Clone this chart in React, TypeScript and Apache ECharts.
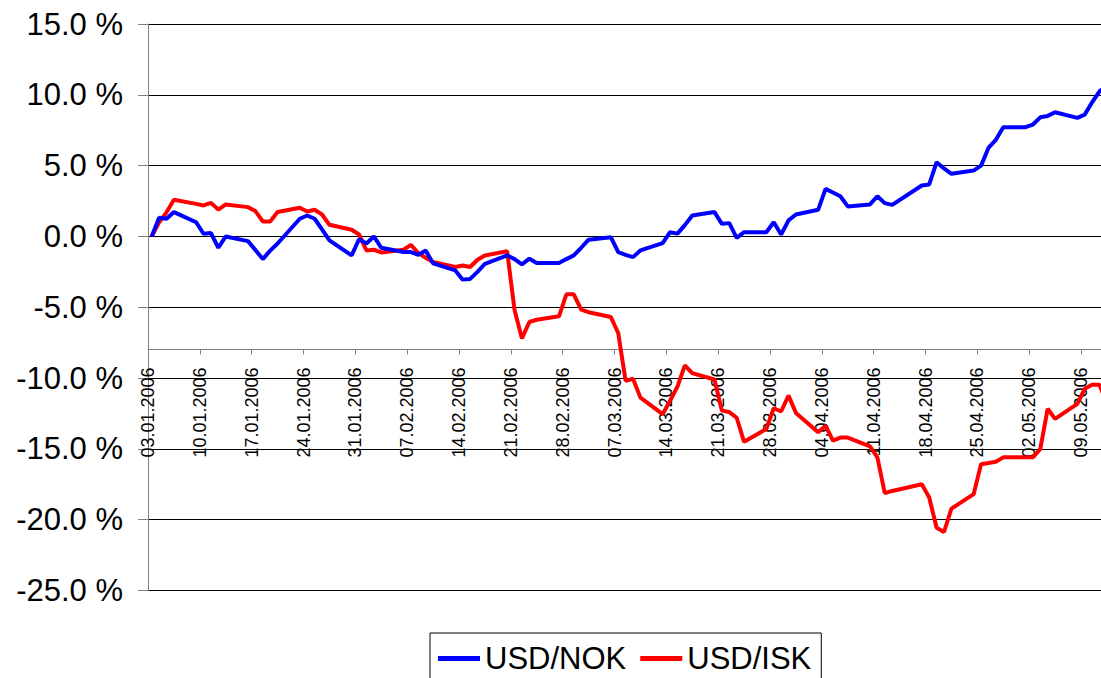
import React, { useEffect, useRef } from "react";
import * as echarts from "echarts";

// Trading dates (2006)
const dates = [
  "03.01","04.01","05.01","06.01","09.01","10.01","11.01","12.01","13.01",
  "16.01","17.01","18.01","19.01","20.01","23.01","24.01","25.01","26.01","27.01",
  "30.01","31.01","01.02","02.02","03.02","06.02","07.02","08.02","09.02","10.02",
  "13.02","14.02","15.02","16.02","17.02","20.02","21.02","22.02","23.02","24.02",
  "27.02","28.02","01.03","02.03","03.03","06.03","07.03","08.03","09.03","10.03",
  "13.03","14.03","15.03","16.03","17.03","20.03","21.03","22.03","23.03","24.03",
  "27.03","28.03","29.03","30.03","31.03","03.04","04.04","05.04","06.04","07.04",
  "10.04","11.04","12.04","13.04","17.04","18.04","19.04","20.04","21.04",
  "24.04","25.04","26.04","27.04","28.04","01.05","02.05","03.05","04.05","05.05",
  "08.05","09.05","10.05","11.05","12.05",
];

const usdNok = [
  0, 1.32, 1.25, 1.72, 1.0, 0.19, 0.24, -0.8, 0.0,
  -0.33, -0.95, -1.6, -1.0, -0.5, 1.25, 1.48, 1.25, 0.5, -0.28,
  -1.34, -0.2, -0.5, 0.0, -0.8, -1.1, -1.1, -1.3, -1.0, -1.9,
  -2.4, -3.05, -3.0, -2.5, -1.93, -1.34, -1.6, -1.97, -1.57, -1.88,
  -1.88, -1.6, -1.34, -0.8, -0.23, -0.05, -1.1, -1.3, -1.46, -0.99,
  -0.47, 0.3, 0.2, 0.8, 1.48, 1.72, 0.89, 0.94, -0.1, 0.3,
  0.3, 1.0, 0.14, 1.13, 1.55, 1.88, 3.36, 3.1, 2.84, 2.12,
  2.26, 2.84, 2.35, 2.23, 3.6, 3.67, 5.24, 4.8, 4.42,
  4.65, 5.0, 6.25, 6.82, 7.71, 7.71, 7.9, 8.41, 8.51, 8.77,
  8.37, 8.6, 9.47, 10.25, 10.6,
];

const usdIsk = [
  0, 1.0, 1.7, 2.59, 2.3, 2.19, 2.37, 1.9, 2.26,
  2.07, 1.79, 1.06, 1.06, 1.72, 2.02, 1.76, 1.88, 1.55, 0.82,
  0.47, 0.14, -0.99, -0.94, -1.13, -0.94, -0.59, -1.18, -1.5, -1.81,
  -2.16, -2.05, -2.16, -1.65, -1.34, -1.04, -5.2, -7.2, -6.04, -5.88,
  -5.64, -4.09, -4.09, -5.17, -5.35, -5.69, -6.82, -10.2, -10.05, -11.38,
  -12.55, -11.6, -10.6, -9.1, -9.65, -10.1, -12.3, -12.4, -12.8, -14.5,
  -13.6, -12.13, -12.36, -11.23, -12.46, -13.83, -13.36, -14.42, -14.2, -14.2,
  -14.82, -15.6, -18.13, -17.97, -17.5, -18.44, -20.57, -20.87, -19.22,
  -18.2, -16.08, -16.0, -15.91, -15.6, -15.6, -15.6, -15.0, -12.17, -12.88,
  -11.82, -10.76, -10.47, -10.47, -11.8,
];

const weekLabels = [
  "03.01.2006","10.01.2006","17.01.2006","24.01.2006","31.01.2006","07.02.2006",
  "14.02.2006","21.02.2006","28.02.2006","07.03.2006","14.03.2006","21.03.2006",
  "28.03.2006","04.04.2006","11.04.2006","18.04.2006","25.04.2006","02.05.2006",
  "09.05.2006",
];

const seriesNames = ["USD/NOK", "USD/ISK"];

const START = Date.UTC(2006, 0, 3);
function dayOffset(s: string): number {
  const [dd, mm] = s.split(".").map(Number);
  return Math.round((Date.UTC(2006, mm - 1, dd) - START) / 86400000);
}

export default function App() {
  const ref = useRef<HTMLDivElement>(null);
  useEffect(() => {
    if (!ref.current) return;
    const chart = echarts.init(ref.current, undefined, { renderer: "svg" });
    const toData = (vals: number[]) =>
      dates.map((d, i) => [dayOffset(d) + 0.5, vals[i]]);
    const font = "'Liberation Sans', Arial, sans-serif";
    chart.setOption({
      animation: false,
      textStyle: { fontFamily: font },
      grid: { left: 148, right: 0, top: 24, bottom: 87.5 },
      xAxis: {
        type: "value",
        min: 0,
        max: 128.7,
        interval: 7,
        offset: -241,
        axisLine: { show: true, onZero: false, lineStyle: { color: "#808080", width: 1 } },
        axisTick: { show: true, length: 5, lineStyle: { color: "#808080" } },
        axisLabel: {
          rotate: 90,
          margin: 18,
          fontSize: 18,
          color: "#000",
          fontFamily: font,
          showMaxLabel: false,
          formatter: (v: number) => {
            const k = Math.round(v / 7);
            if (Math.abs(v - k * 7) > 1e-6) return "";
            return weekLabels[k] ?? "";
          },
        },
        splitLine: { show: false },
      },
      yAxis: {
        type: "value",
        min: -25,
        max: 15,
        interval: 5,
        axisLine: { show: true, lineStyle: { color: "#808080", width: 1 } },
        axisTick: { show: true, length: 10, lineStyle: { color: "#808080" } },
        axisLabel: {
          fontSize: 31,
          color: "#000",
          margin: 25,
          fontFamily: font,
          formatter: (v: number) => v.toFixed(1) + " %",
        },
        splitLine: { show: true, lineStyle: { color: "#000", width: 1 } },
      },
      legend: {
        left: 430,
        top: 633,
        orient: "horizontal",
        borderColor: "#000",
        borderWidth: 1,
        padding: [10, 10, 10, 8],
        itemWidth: 42,
        itemHeight: 5,
        itemGap: 14,
        icon: "rect",
        textStyle: { fontSize: 31, color: "#000", fontFamily: font },
        data: seriesNames,
      },
      series: [
        {
          name: seriesNames[0],
          type: "line",
          data: toData(usdNok),
          showSymbol: false,
          symbol: "none",
          connectNulls: true,
          color: "#0000FF",
          lineStyle: { color: "#0000FF", width: 4 },
          z: 3,
        },
        {
          name: seriesNames[1],
          type: "line",
          data: toData(usdIsk),
          showSymbol: false,
          symbol: "none",
          connectNulls: true,
          color: "#FF0000",
          lineStyle: { color: "#FF0000", width: 4 },
          z: 2,
        },
      ],
    });
    return () => chart.dispose();
  }, []);
  return (
    <div
      ref={ref}
      style={{ position: "absolute", left: 0, top: 0, width: 1101, height: 678, background: "#fff" }}
    />
  );
}
